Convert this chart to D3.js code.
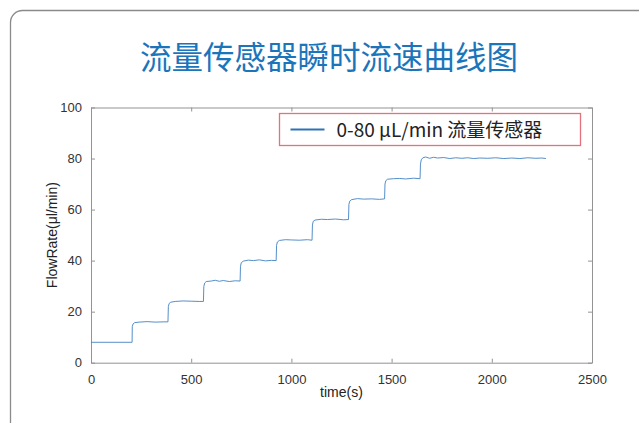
<!DOCTYPE html>
<html>
<head>
<meta charset="utf-8">
<script src="https://cdn.jsdelivr.net/npm/d3@7"></script>
<style>
  body { margin: 0; background: #fff; }
  #chart svg { display: block; }
</style>
</head>
<body>
<div id="chart"></div>
<script>
const titleText = '流量传感器瞬时流速曲线图'
const legendLabel = '0-80 μL/min 流量传感器'
const xLabel = 'time(s)'
const yLabel = 'FlowRate(μl/min)'
const xTicks = [0, 500, 1000, 1500, 2000, 2500]
const yTicks = [0, 20, 40, 60, 80, 100]

const time = [
  0, 100, 205,
  206, 210, 218, 240, 280, 320, 360, 384,
  386, 390, 398, 420, 460, 500, 540, 561,
  563, 567, 575, 600, 620, 640, 660, 690, 720, 744,
  746, 750, 760, 785, 810, 840, 870, 900, 924,
  926, 930, 940, 970, 1000, 1040, 1080, 1103,
  1105, 1109, 1118, 1150, 1180, 1220, 1260, 1285,
  1287, 1291, 1300, 1330, 1360, 1400, 1440, 1465,
  1467, 1471, 1480, 1510, 1540, 1570, 1610, 1642,
  1644, 1648, 1656, 1670, 1690, 1710, 1730, 1760, 1790, 1820, 1850, 1880,
  1910, 1940, 1980, 2020, 2060, 2100, 2140, 2180, 2220, 2250, 2270
]
const flowRate = [
  8.0, 8.0, 8.0,
  14.2, 15.2, 15.7, 15.9, 16.1, 15.9, 16.0, 16.0,
  22.0, 23.2, 23.7, 24.0, 24.2, 24.1, 24.0, 24.0,
  29.8, 31.2, 31.8, 32.0, 32.3, 31.9, 32.2, 31.8, 32.1, 32.0,
  37.8, 39.2, 39.8, 40.2, 40.0, 40.3, 39.9, 40.1, 40.0,
  46.0, 47.3, 47.9, 48.2, 48.1, 48.0, 48.2, 48.0,
  54.0, 55.4, 55.9, 56.2, 56.1, 56.3, 56.0, 56.1,
  62.0, 63.3, 63.9, 64.3, 64.1, 64.2, 64.0, 64.2,
  70.0, 71.3, 71.9, 72.1, 72.2, 72.0, 72.3, 72.1,
  77.8, 79.5, 80.3, 80.6, 80.1, 80.5, 80.2, 80.4, 80.0, 80.3, 80.1, 80.3,
  80.0, 80.2, 80.1, 80.3, 80.0, 80.2, 80.0, 80.3, 80.1, 80.2, 80.0
]

function buildChart() {
  const canvasWidth = 639
  const canvasHeight = 423
  const plot = {left: 91, right: 592, top: 107.5, bottom: 362.7}
  const axisColor = '#939393'
  const lineColor = '#4282c2'
  const tickFont = '"Liberation Sans", Arial, sans-serif'
  const cjkFont = '"Noto Sans CJK SC", "Noto Sans", sans-serif'

  const data = time.map((t, i) => ({t, v: flowRate[i]}))

  const svg = d3.select('#chart')
    .append('svg')
    .attr('width', canvasWidth)
    .attr('height', canvasHeight)

  // outer card frame, runs off the right and bottom edges
  svg.append('rect')
    .attr('x', 10.5)
    .attr('y', 10.5)
    .attr('width', 720)
    .attr('height', 500)
    .attr('rx', 12)
    .attr('fill', '#fff')
    .attr('stroke', '#8a8a8a')
    .attr('stroke-width', 1.3)

  svg.append('text')
    .attr('x', 329)
    .attr('y', 69)
    .attr('text-anchor', 'middle')
    .attr('font-family', cjkFont)
    .attr('font-size', 31.5)
    .attr('fill', '#1b75bb')
    .text(titleText)

  const xScale = d3.scaleLinear().domain([0, 2500]).range([plot.left, plot.right])
  const yScale = d3.scaleLinear().domain([0, 100]).range([plot.bottom, plot.top])

  const styleAxis = g => {
    g.select('.domain').attr('stroke', axisColor)
    g.selectAll('.tick line').attr('stroke', axisColor)
    g.selectAll('.tick text')
      .attr('fill', '#333')
      .attr('font-family', tickFont)
      .attr('font-size', 13)
  }

  svg.append('g')
    .attr('transform', `translate(0, ${plot.bottom})`)
    .call(d3.axisBottom(xScale).tickValues(xTicks).tickFormat(d3.format('d'))
      .tickSize(-4).tickSizeOuter(0).tickPadding(12))
    .call(styleAxis)

  svg.append('g')
    .attr('transform', `translate(0, ${plot.top})`)
    .call(d3.axisTop(xScale).tickValues(xTicks).tickSize(-4).tickSizeOuter(0).tickFormat(''))
    .call(styleAxis)

  svg.append('g')
    .attr('transform', `translate(${plot.left}, 0)`)
    .call(d3.axisLeft(yScale).tickValues(yTicks).tickSize(-4).tickSizeOuter(0).tickPadding(9))
    .call(styleAxis)

  svg.append('g')
    .attr('transform', `translate(${plot.right}, 0)`)
    .call(d3.axisRight(yScale).tickValues(yTicks).tickSize(-4).tickSizeOuter(0).tickFormat(''))
    .call(styleAxis)

  svg.append('text')
    .attr('x', (plot.left + plot.right) / 2)
    .attr('y', 397)
    .attr('text-anchor', 'middle')
    .attr('font-family', tickFont)
    .attr('font-size', 14)
    .attr('fill', '#222')
    .text(xLabel)

  svg.append('text')
    .attr('transform', `translate(57, ${(plot.top + plot.bottom) / 2}) rotate(-90)`)
    .attr('text-anchor', 'middle')
    .attr('font-family', tickFont)
    .attr('font-size', 14)
    .attr('fill', '#222')
    .text(yLabel)

  const line = d3.line()
    .x(d => xScale(d.t))
    .y(d => yScale(d.v))

  svg.append('path')
    .datum(data)
    .attr('d', line)
    .attr('fill', 'none')
    .attr('stroke', lineColor)
    .attr('stroke-width', 0.9)

  // legend
  const legend = svg.append('g').attr('transform', 'translate(279.5, 113.5)')
  legend.append('rect')
    .attr('width', 301)
    .attr('height', 32)
    .attr('fill', '#fff')
    .attr('stroke', '#e4727c')
    .attr('stroke-width', 1.3)
  legend.append('line')
    .attr('x1', 11)
    .attr('x2', 45)
    .attr('y1', 16)
    .attr('y2', 16)
    .attr('stroke', '#2f72b6')
    .attr('stroke-width', 1.8)
  legend.append('text')
    .attr('x', 57)
    .attr('y', 23)
    .attr('font-family', cjkFont)
    .attr('font-size', 19)
    .attr('fill', '#222')
    .text(legendLabel)
}

buildChart()
</script>
</body>
</html>
